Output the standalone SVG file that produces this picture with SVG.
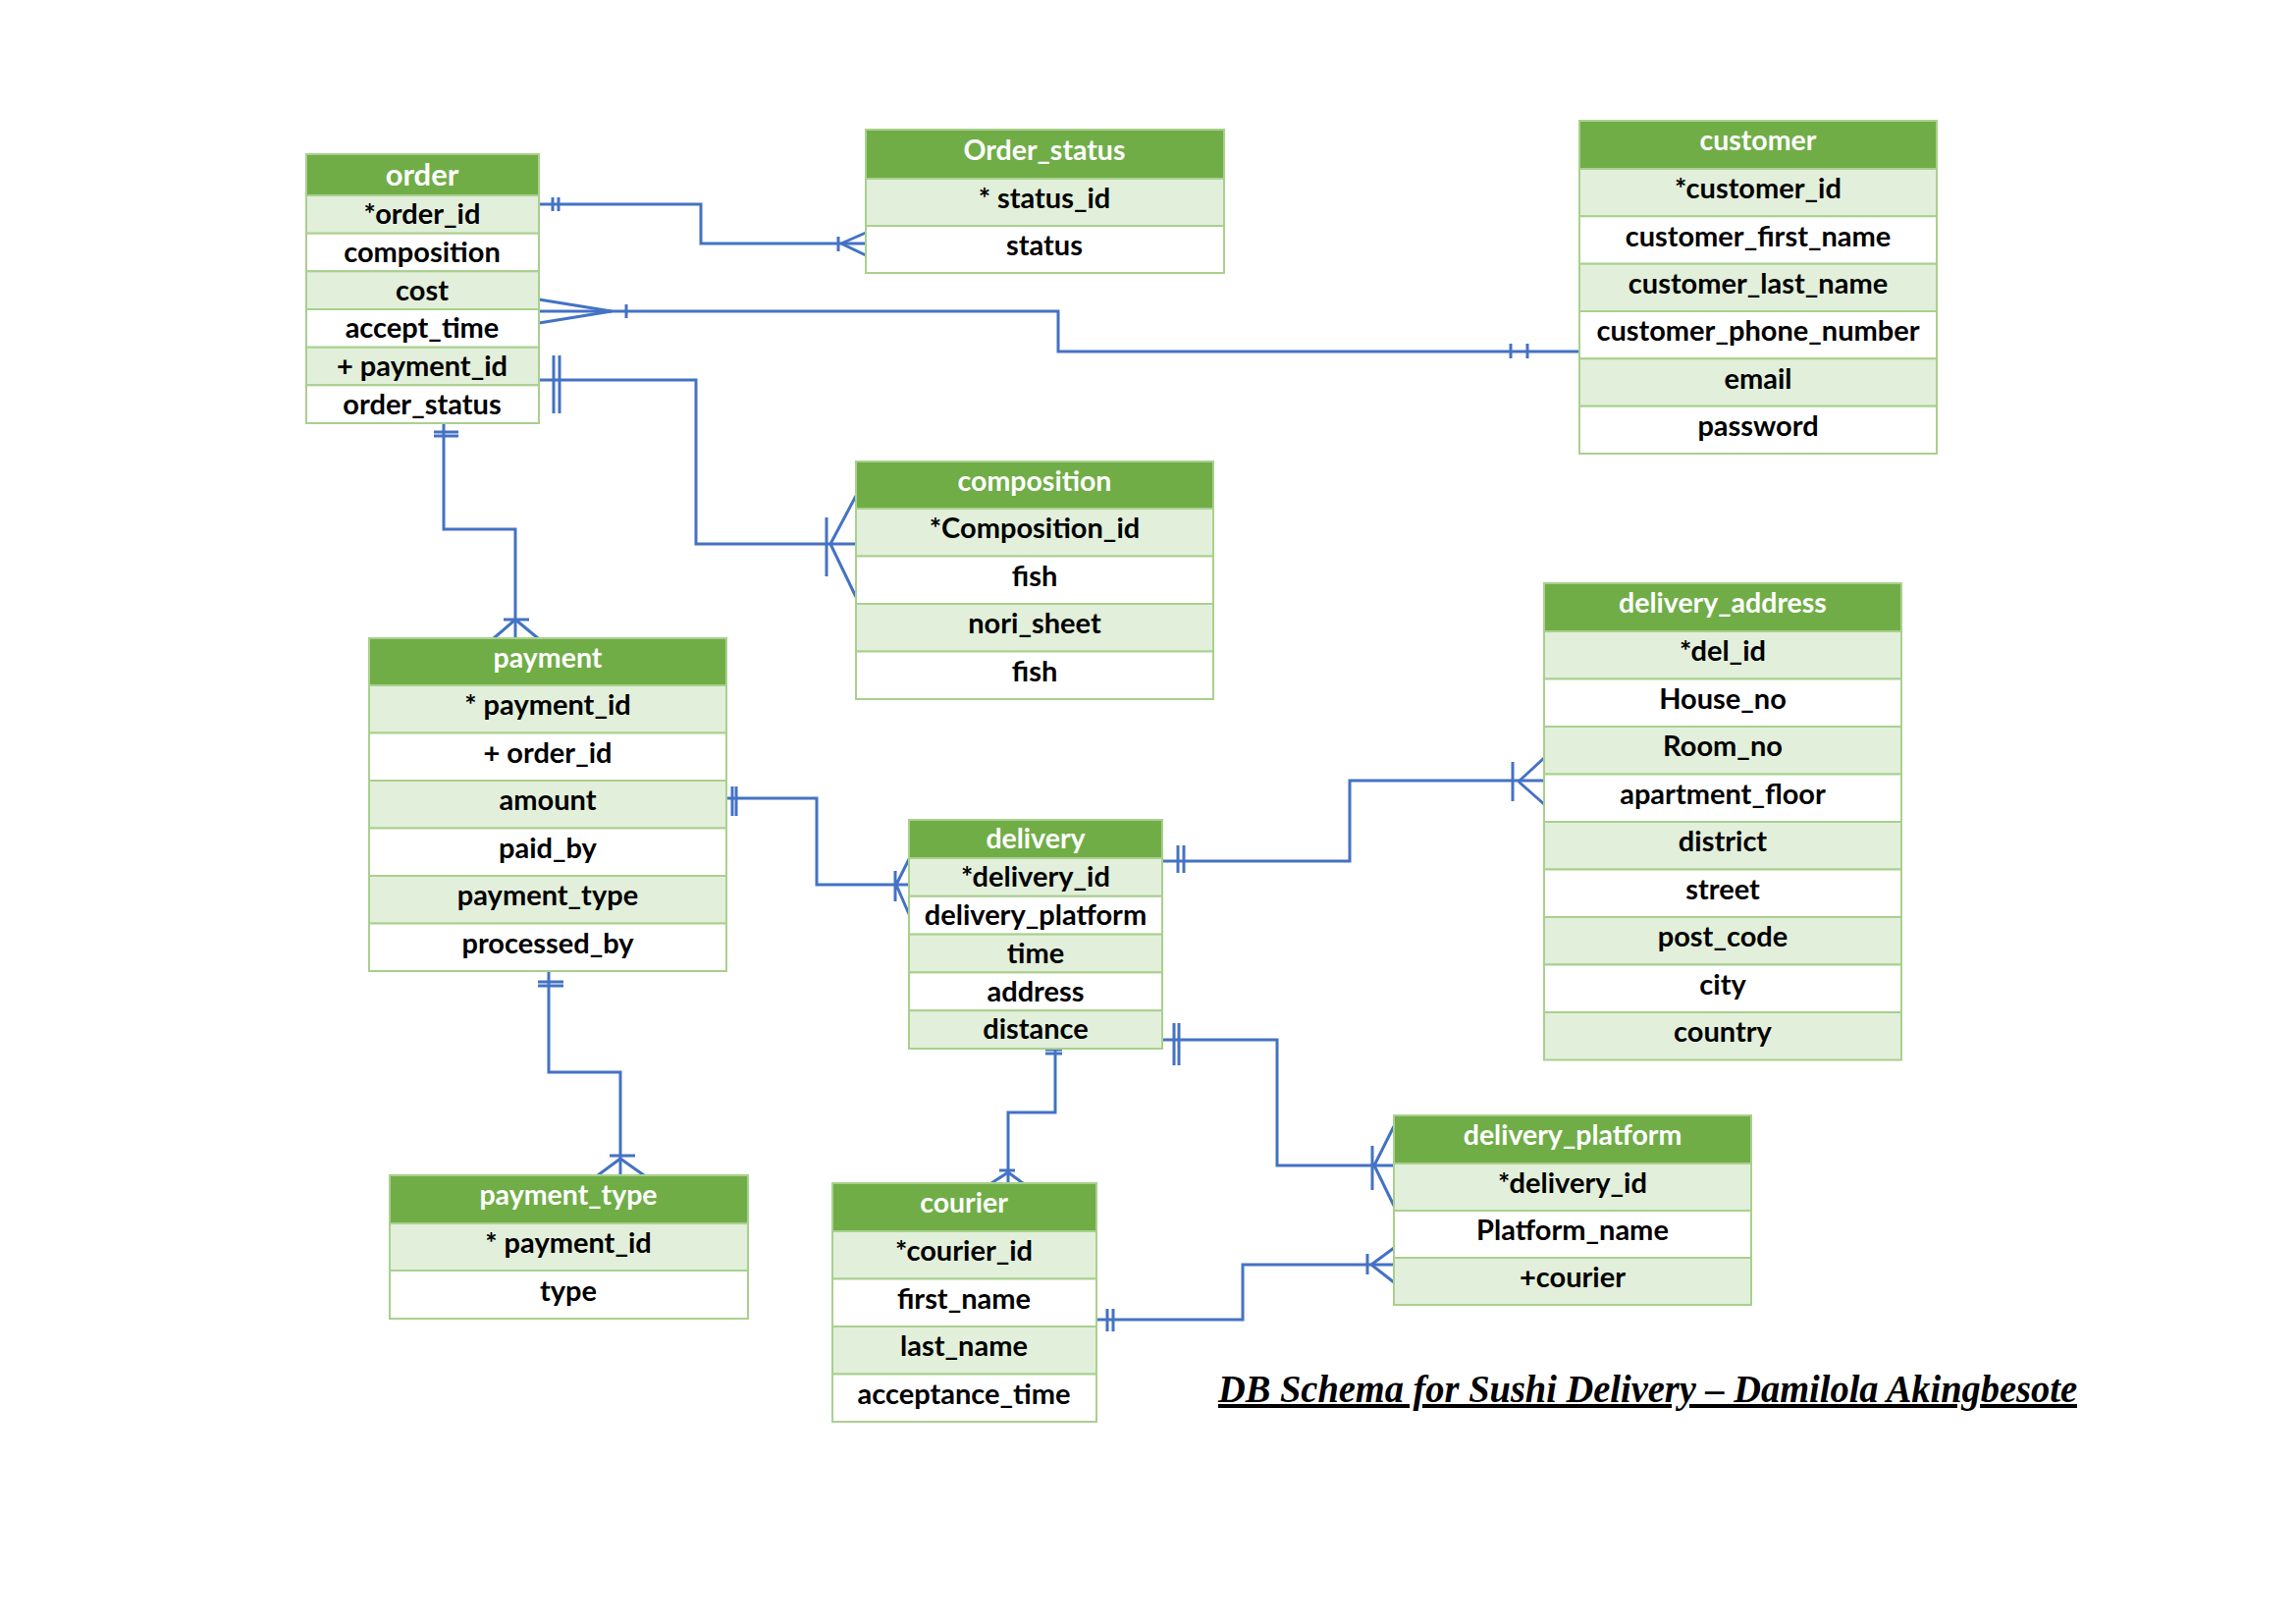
<svg xmlns="http://www.w3.org/2000/svg" width="2339" height="1654" viewBox="0 0 2339 1654">
<style>
.hd{fill:#70AD47;stroke:#A9D08E;stroke-width:2}
.g{fill:#E2EFDA;stroke:#A9D08E;stroke-width:2}
.w{fill:#FFFFFF;stroke:#A9D08E;stroke-width:2}
.t{font-family:Lato,"Open Sans","Liberation Sans",sans-serif;font-weight:700;font-size:29px;text-anchor:middle;fill:#000}
.th{fill:#FFFFFF;font-size:28.5px}
.c{stroke:#4472C4;stroke-width:3;fill:none}
.title{font-family:"Liberation Serif","DejaVu Serif",serif;font-weight:700;font-style:italic;font-size:40px;fill:#000;text-decoration:underline}
</style>
<rect width="2339" height="1654" fill="#FFFFFF"/>

<g id="connectors">
  <!-- order -> Order_status -->
  <path class="c" d="M549,208 H714 V248 H882"/>
  <path class="c" d="M563,201 V215 M569,201 V215"/>
  <path class="c" d="M854,241 V256 M857,248 L882,237 M857,248 L882,260"/>
  <!-- order -> customer -->
  <path class="c" d="M549,317 H1078 V358 H1609"/>
  <path class="c" d="M549,305 L623,317 L549,329"/>
  <path class="c" d="M638,310 V324"/>
  <path class="c" d="M1539,350 V365 M1556,350 V365"/>
  <!-- order -> composition -->
  <path class="c" d="M549,387 H709 V554 H872"/>
  <path class="c" d="M564,362 V421 M570,362 V421"/>
  <path class="c" d="M842,527 V587 M846,554 L872,505 M846,554 L872,608"/>
  <!-- order -> payment -->
  <path class="c" d="M452,431 V539 H525 V650"/>
  <path class="c" d="M442,440 H467 M442,444 H467"/>
  <path class="c" d="M513,631 H539 M525,631 L503,650 M525,631 L548,650"/>
  <!-- payment -> delivery -->
  <path class="c" d="M740,813 H832 V901 H926"/>
  <path class="c" d="M746,801 V831 M750,801 V831"/>
  <path class="c" d="M912,887 V918 M913,901 L926,875 M913,901 L926,931"/>
  <!-- delivery -> delivery_address -->
  <path class="c" d="M1184,877 H1375 V795 H1573"/>
  <path class="c" d="M1200,861 V889 M1206,861 V889"/>
  <path class="c" d="M1541,776 V816 M1547,796 L1573,772 M1547,796 L1573,819"/>
  <!-- delivery -> delivery_platform -->
  <path class="c" d="M1184,1059 H1301 V1187 H1420"/>
  <path class="c" d="M1196,1042 V1085 M1201,1042 V1085"/>
  <path class="c" d="M1398,1167 V1212 M1400,1187 L1420,1147 M1400,1187 L1420,1228"/>
  <!-- delivery -> courier -->
  <path class="c" d="M1075,1068 V1133 H1027 V1205"/>
  <path class="c" d="M1065,1069 H1082 M1065,1073 H1082"/>
  <path class="c" d="M1018,1192 H1034 M1027,1194 L1010,1205 M1027,1194 L1042,1205"/>
  <!-- courier -> delivery_platform -->
  <path class="c" d="M1117,1344 H1266 V1288 H1420"/>
  <path class="c" d="M1128,1333 V1356 M1134,1333 V1356"/>
  <path class="c" d="M1393,1277 V1298 M1397,1288 L1420,1271 M1397,1288 L1420,1306"/>
  <!-- payment -> payment_type -->
  <path class="c" d="M559,989 V1092 H632 V1197"/>
  <path class="c" d="M548,1000 H574 M548,1004 H574"/>
  <path class="c" d="M621,1177 H647 M632,1180 L609,1197 M632,1180 L656,1197"/>
</g>

<g id="order">
  <rect class="hd" x="312" y="157" width="237" height="42"/>
  <text class="t th" x="430" y="189" style="font-size:31px">order</text>
  <rect class="g" x="312" y="199" width="237" height="38.7"/>
  <text class="t" x="430" y="228">*order_id</text>
  <rect class="w" x="312" y="237.7" width="237" height="38.6"/>
  <text class="t" x="430" y="267">composition</text>
  <rect class="g" x="312" y="276.3" width="237" height="38.7"/>
  <text class="t" x="430" y="305.5">cost</text>
  <rect class="w" x="312" y="315" width="237" height="38.7"/>
  <text class="t" x="430" y="344">accept_time</text>
  <rect class="g" x="312" y="353.7" width="237" height="38.6"/>
  <text class="t" x="430" y="383">+ payment_id</text>
  <rect class="w" x="312" y="392.3" width="237" height="38.7"/>
  <text class="t" x="430" y="421.5">order_status</text>
</g>

<g id="order_status">
  <rect class="hd" x="882" y="132" width="365" height="50"/>
  <text class="t th" x="1064" y="163">Order_status</text>
  <rect class="g" x="882" y="182" width="365" height="48"/>
  <text class="t" x="1064" y="212">* status_id</text>
  <rect class="w" x="882" y="230" width="365" height="48"/>
  <text class="t" x="1064" y="260">status</text>
</g>

<g id="customer">
  <rect class="hd" x="1609" y="123" width="364" height="49"/>
  <text class="t th" x="1791" y="153">customer</text>
  <rect class="g" x="1609" y="172" width="364" height="48.3"/>
  <text class="t" x="1791" y="202">*customer_id</text>
  <rect class="w" x="1609" y="220.3" width="364" height="48.4"/>
  <text class="t" x="1791" y="250.5">customer_first_name</text>
  <rect class="g" x="1609" y="268.7" width="364" height="48.3"/>
  <text class="t" x="1791" y="299">customer_last_name</text>
  <rect class="w" x="1609" y="317" width="364" height="48.3"/>
  <text class="t" x="1791" y="347">customer_phone_number</text>
  <rect class="g" x="1609" y="365.3" width="364" height="48.4"/>
  <text class="t" x="1791" y="395.5">email</text>
  <rect class="w" x="1609" y="413.7" width="364" height="48.3"/>
  <text class="t" x="1791" y="444">password</text>
</g>

<g id="composition">
  <rect class="hd" x="872" y="470" width="364" height="48"/>
  <text class="t th" x="1054" y="500">composition</text>
  <rect class="g" x="872" y="518" width="364" height="48.5"/>
  <text class="t" x="1054" y="548">*Composition_id</text>
  <rect class="w" x="872" y="566.5" width="364" height="48.5"/>
  <text class="t" x="1054" y="597">fish</text>
  <rect class="g" x="872" y="615" width="364" height="48.5"/>
  <text class="t" x="1054" y="645">nori_sheet</text>
  <rect class="w" x="872" y="663.5" width="364" height="48.5"/>
  <text class="t" x="1054" y="694">fish</text>
</g>

<g id="payment">
  <rect class="hd" x="376" y="650" width="364" height="48"/>
  <text class="t th" x="558" y="680">payment</text>
  <rect class="g" x="376" y="698" width="364" height="48.5"/>
  <text class="t" x="558" y="728">* payment_id</text>
  <rect class="w" x="376" y="746.5" width="364" height="48.5"/>
  <text class="t" x="558" y="777">+ order_id</text>
  <rect class="g" x="376" y="795" width="364" height="48.5"/>
  <text class="t" x="558" y="825">amount</text>
  <rect class="w" x="376" y="843.5" width="364" height="48.5"/>
  <text class="t" x="558" y="874">paid_by</text>
  <rect class="g" x="376" y="892" width="364" height="48.5"/>
  <text class="t" x="558" y="922">payment_type</text>
  <rect class="w" x="376" y="940.5" width="364" height="48.5"/>
  <text class="t" x="558" y="971">processed_by</text>
</g>

<g id="delivery_address">
  <rect class="hd" x="1573" y="594" width="364" height="49"/>
  <text class="t th" x="1755" y="624">delivery_address</text>
  <rect class="g" x="1573" y="643" width="364" height="48.5"/>
  <text class="t" x="1755" y="673">*del_id</text>
  <rect class="w" x="1573" y="691.5" width="364" height="48.5"/>
  <text class="t" x="1755" y="722">House_no</text>
  <rect class="g" x="1573" y="740" width="364" height="48.5"/>
  <text class="t" x="1755" y="770">Room_no</text>
  <rect class="w" x="1573" y="788.5" width="364" height="48.5"/>
  <text class="t" x="1755" y="819">apartment_floor</text>
  <rect class="g" x="1573" y="837" width="364" height="48.5"/>
  <text class="t" x="1755" y="867">district</text>
  <rect class="w" x="1573" y="885.5" width="364" height="48.5"/>
  <text class="t" x="1755" y="916">street</text>
  <rect class="g" x="1573" y="934" width="364" height="48.5"/>
  <text class="t" x="1755" y="964">post_code</text>
  <rect class="w" x="1573" y="982.5" width="364" height="48.5"/>
  <text class="t" x="1755" y="1013">city</text>
  <rect class="g" x="1573" y="1031" width="364" height="48.5"/>
  <text class="t" x="1755" y="1061">country</text>
</g>

<g id="delivery">
  <rect class="hd" x="926" y="835" width="258" height="39"/>
  <text class="t th" x="1055" y="864">delivery</text>
  <rect class="g" x="926" y="874" width="258" height="38.8"/>
  <text class="t" x="1055" y="903">*delivery_id</text>
  <rect class="w" x="926" y="912.8" width="258" height="38.8"/>
  <text class="t" x="1055" y="942">delivery_platform</text>
  <rect class="g" x="926" y="951.6" width="258" height="38.8"/>
  <text class="t" x="1055" y="981">time</text>
  <rect class="w" x="926" y="990.4" width="258" height="38.8"/>
  <text class="t" x="1055" y="1019.5">address</text>
  <rect class="g" x="926" y="1029.2" width="258" height="38.8"/>
  <text class="t" x="1055" y="1058">distance</text>
</g>

<g id="delivery_platform">
  <rect class="hd" x="1420" y="1136" width="364" height="49"/>
  <text class="t th" x="1602" y="1166">delivery_platform</text>
  <rect class="g" x="1420" y="1185" width="364" height="48"/>
  <text class="t" x="1602" y="1215">*delivery_id</text>
  <rect class="w" x="1420" y="1233" width="364" height="48"/>
  <text class="t" x="1602" y="1263">Platform_name</text>
  <rect class="g" x="1420" y="1281" width="364" height="48"/>
  <text class="t" x="1602" y="1311">+courier</text>
</g>

<g id="courier">
  <rect class="hd" x="848" y="1205" width="269" height="49"/>
  <text class="t th" x="982" y="1235">courier</text>
  <rect class="g" x="848" y="1254" width="269" height="48.5"/>
  <text class="t" x="982" y="1284">*courier_id</text>
  <rect class="w" x="848" y="1302.5" width="269" height="48.5"/>
  <text class="t" x="982" y="1333">first_name</text>
  <rect class="g" x="848" y="1351" width="269" height="48.5"/>
  <text class="t" x="982" y="1381">last_name</text>
  <rect class="w" x="848" y="1399.5" width="269" height="48.5"/>
  <text class="t" x="982" y="1430">acceptance_time</text>
</g>

<g id="payment_type">
  <rect class="hd" x="397" y="1197" width="365" height="49"/>
  <text class="t th" x="579" y="1227">payment_type</text>
  <rect class="g" x="397" y="1246" width="365" height="48"/>
  <text class="t" x="579" y="1276">* payment_id</text>
  <rect class="w" x="397" y="1294" width="365" height="49"/>
  <text class="t" x="579" y="1325">type</text>
</g>

<text class="title" x="1241" y="1428" textLength="875" lengthAdjust="spacingAndGlyphs">DB Schema for Sushi Delivery – Damilola Akingbesote</text>
</svg>
